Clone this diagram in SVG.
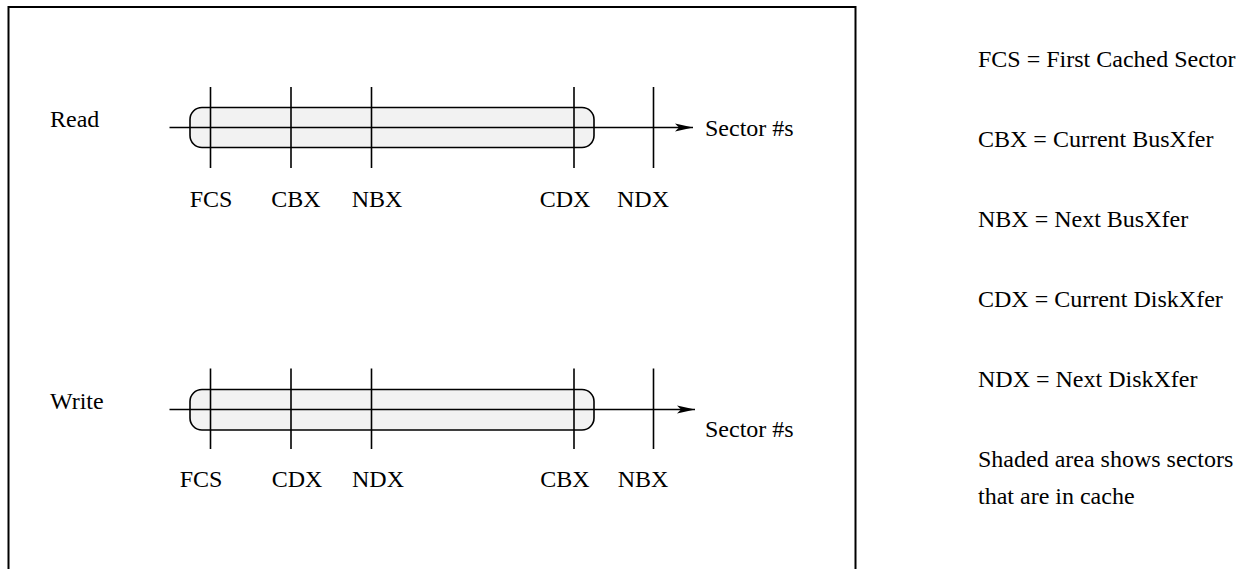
<svg xmlns="http://www.w3.org/2000/svg" width="1248" height="569" viewBox="0 0 1248 569">
<defs>
<style>
text{font-family:"Liberation Serif","Tinos","Times New Roman","DejaVu Serif",serif;font-size:24px;fill:#000}
.lbl{text-anchor:middle}
.ln{stroke:#000;stroke-width:1.6;fill:none}
.band{fill:#f2f2f2;stroke:#000;stroke-width:1.6}
</style>
<marker id="arr" markerWidth="20" markerHeight="10" refX="19" refY="5" orient="auto" markerUnits="userSpaceOnUse">
<path d="M1,1 L19,5 L1,9 L5,5 Z" fill="#000"/>
</marker>
</defs>
<rect width="1248" height="569" fill="#fff"/>
<g id="frame"><path d="M8.5,580 V7 H855.5 V580" stroke="#000" stroke-width="2" fill="none"/></g>

<g id="read" font-family="Liberation Serif, serif">
<text x="50" y="127">Read</text>
<rect class="band" x="190" y="107.5" width="404" height="40" rx="12"/>
</g>
<g id="read-ticks" font-family="Liberation Serif, serif">
<line class="ln" x1="210.5" y1="87" x2="210.5" y2="168"/>
<line class="ln" x1="291" y1="87" x2="291" y2="168"/>
<line class="ln" x1="371.5" y1="87" x2="371.5" y2="168"/>
<line class="ln" x1="574" y1="87" x2="574" y2="168"/>
<line class="ln" x1="653.5" y1="87" x2="653.5" y2="168"/>
<text class="lbl" x="211" y="207">FCS</text>
<text class="lbl" x="296" y="207">CBX</text>
<text class="lbl" x="377" y="207">NBX</text>
<text class="lbl" x="565" y="207">CDX</text>
<text class="lbl" x="643" y="207">NDX</text>
<text x="705" y="136">Sector #s</text>
</g>

<g id="write" font-family="Liberation Serif, serif">
<text x="50" y="409">Write</text>
<rect class="band" x="190" y="389.5" width="404" height="40.5" rx="12"/>
</g>
<g id="write-ticks" font-family="Liberation Serif, serif">
<line class="ln" x1="210.5" y1="368.5" x2="210.5" y2="449"/>
<line class="ln" x1="291" y1="368.5" x2="291" y2="449"/>
<line class="ln" x1="371.5" y1="368.5" x2="371.5" y2="449"/>
<line class="ln" x1="574" y1="368.5" x2="574" y2="449"/>
<line class="ln" x1="653.5" y1="368.5" x2="653.5" y2="449"/>
<text class="lbl" x="201" y="487">FCS</text>
<text class="lbl" x="297" y="487">CDX</text>
<text class="lbl" x="378" y="487">NDX</text>
<text class="lbl" x="565" y="487">CBX</text>
<text class="lbl" x="643" y="487">NBX</text>
<text x="705" y="437">Sector #s</text>
</g>

<g id="connectors">
<line class="ln" x1="169.5" y1="127.5" x2="693" y2="127.5" marker-end="url(#arr)"/>
<line class="ln" x1="169.5" y1="409.5" x2="695" y2="409.5" marker-end="url(#arr)"/>
</g>

<g id="legend" font-family="Liberation Serif, serif">
<text x="978" y="67">FCS = First Cached Sector</text>
<text x="978" y="147">CBX = Current BusXfer</text>
<text x="978" y="227">NBX = Next BusXfer</text>
<text x="978" y="307">CDX = Current DiskXfer</text>
<text x="978" y="387">NDX = Next DiskXfer</text>
<text x="978" y="467">Shaded area shows sectors</text>
<text x="978" y="504">that are in cache</text>
</g>
</svg>
